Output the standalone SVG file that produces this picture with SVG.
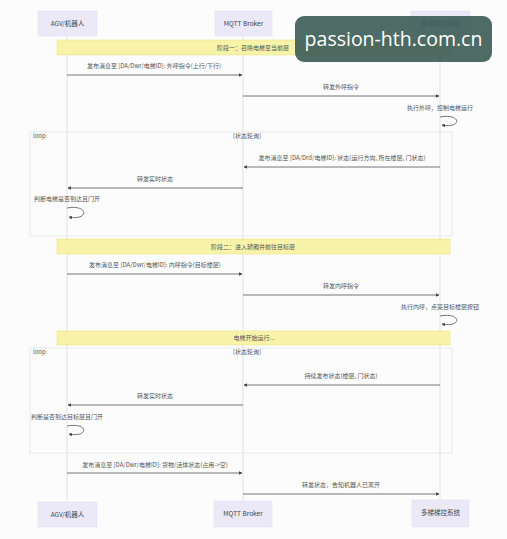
<svg xmlns="http://www.w3.org/2000/svg" width="507" height="539" viewBox="0 0 507 539">
<defs>
<style>
text{font-family:"Noto Sans CJK SC","Noto Sans",sans-serif;fill:#555;font-size:6px}
.actor rect{fill:#ebe9f8;stroke:#e2e0f2;stroke-width:0.6}
.actor text{font-size:6.5px;fill:#444;text-anchor:middle}
.life{stroke:#dcdcdc;stroke-width:0.8}
.note rect{fill:#f8f3a8;stroke:#ece48c;stroke-width:0.6}
.note text{fill:#555;text-anchor:middle}
.frame{fill:none;stroke:#e6e6e6;stroke-width:0.8}
.msg{stroke:#666;stroke-width:0.9;fill:none;marker-end:url(#ah)}
.mt{text-anchor:middle}
</style>
<marker id="ah" viewBox="0 0 10 10" refX="9" refY="5" markerWidth="4" markerHeight="4" orient="auto"><path d="M0,0 L10,5 L0,10 z" fill="#444"/></marker>
</defs>
<rect width="507" height="539" fill="#fcfcfc"/>
<g id="lifelines">
<line class="life" x1="67" y1="36" x2="67" y2="502"/>
<line class="life" x1="243" y1="36" x2="243" y2="501"/>
<line class="life" x1="440" y1="36" x2="440" y2="500"/>
</g>
<g id="actor-agv-top" class="actor"><rect x="38" y="11" width="59" height="25"/><text x="67.5" y="26">AGV/机器人</text></g>
<g id="actor-mqtt-top" class="actor"><rect x="215" y="11" width="57" height="25"/><text x="243.5" y="26">MQTT Broker</text></g>
<g id="actor-elev-top" class="actor"><rect x="411" y="11" width="59" height="25"/><text x="440.5" y="26">多梯梯控系统</text></g>
<g id="actor-agv-bottom" class="actor"><rect x="38" y="502" width="59" height="25"/><text x="67.5" y="517">AGV/机器人</text></g>
<g id="actor-mqtt-bottom" class="actor"><rect x="214" y="501" width="58" height="26"/><text x="243" y="516">MQTT Broker</text></g>
<g id="actor-elev-bottom" class="actor"><rect x="412" y="500" width="57" height="27"/><text x="440.5" y="515">多梯梯控系统</text></g>
<g id="loop1"><rect class="frame" x="30" y="132" width="422" height="104"/><text x="33" y="138">loop</text><text x="247" y="138" class="mt">[状态轮询]</text></g>
<g id="loop2"><rect class="frame" x="30" y="348" width="422" height="105"/><text x="33" y="354">loop</text><text x="247" y="354" class="mt">[状态轮询]</text></g>
<g id="note1" class="note"><rect x="57" y="40" width="395" height="15"/><text x="253" y="50">阶段一：召唤电梯至当前层</text></g>
<g id="note2" class="note"><rect x="57" y="239" width="393" height="15"/><text x="253" y="249">阶段二：进入轿厢并前往目标层</text></g>
<g id="note3" class="note"><rect x="57" y="331" width="393" height="14"/><text x="254" y="340">电梯开始运行...</text></g>
<g id="connectors">
<line class="msg" x1="67" y1="75" x2="242" y2="75"/>
<line class="msg" x1="243" y1="96" x2="439" y2="96"/>
<path class="msg" d="M440,117 C462,113 462,129 442,125"/>
<line class="msg" x1="440" y1="167" x2="244" y2="167"/>
<line class="msg" x1="243" y1="188" x2="68" y2="188"/>
<path class="msg" d="M67,208 C89,204 89,221 69,217"/>
<line class="msg" x1="67" y1="274" x2="242" y2="274"/>
<line class="msg" x1="243" y1="295" x2="439" y2="295"/>
<path class="msg" d="M440,316 C462,312 462,328 442,324"/>
<line class="msg" x1="440" y1="385" x2="244" y2="385"/>
<line class="msg" x1="243" y1="405" x2="68" y2="405"/>
<path class="msg" d="M67,426 C89,422 89,438 69,434"/>
<line class="msg" x1="67" y1="473" x2="242" y2="473"/>
<line class="msg" x1="243" y1="494" x2="439" y2="494"/>
</g>
<g id="labels">
<text x="154" y="68" class="mt">发布消息至 [DA/Dwr/电梯ID]: 外呼指令(上行/下行)</text>
<text x="341" y="89" class="mt">转发外呼指令</text>
<text x="440" y="110" class="mt">执行外呼，控制电梯运行</text>
<text x="342" y="160" class="mt">发布消息至 [DA/Drd/电梯ID]: 状态(运行方向, 所在楼层, 门状态)</text>
<text x="155" y="181" class="mt">转发实时状态</text>
<text x="67" y="201" class="mt">判断电梯是否到达且门开</text>
<text x="155" y="267" class="mt">发布消息至 [DA/Dwr/电梯ID]: 内呼指令(目标楼层)</text>
<text x="341" y="288" class="mt">转发内呼指令</text>
<text x="440" y="309" class="mt">执行内呼，点亮目标楼层按钮</text>
<text x="341" y="378" class="mt">持续发布状态(楼层, 门状态)</text>
<text x="155" y="398" class="mt">转发实时状态</text>
<text x="67" y="419" class="mt">判断是否到达目标层且门开</text>
<text x="155" y="467" class="mt">发布消息至 [DA/Dwr/电梯ID]: 货物/活体状态(占用-&gt;空)</text>
<text x="341" y="487" class="mt">转发状态，告知机器人已离开</text>
</g>
<g id="watermark"><rect x="295" y="16" width="197" height="46" rx="9" fill="#3f5e59" fill-opacity="0.92"/><text x="393.5" y="46" style="font-family:'Open Sans','Noto Sans',sans-serif;font-size:19.5px;fill:#ffffff;text-anchor:middle">passion-hth.com.cn</text></g>
</svg>
